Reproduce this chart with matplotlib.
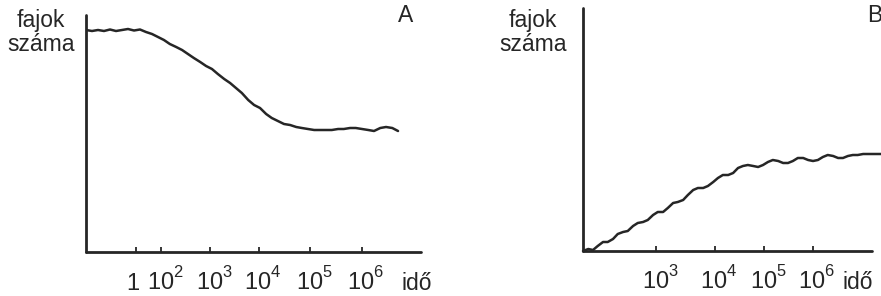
import numpy as np
import matplotlib
matplotlib.use("Agg")
import matplotlib.pyplot as plt
from matplotlib.transforms import ScaledTranslation

plt.rcParams['font.family'] = ['Liberation Sans', 'DejaVu Sans']
plt.rcParams['mathtext.fontset'] = 'custom'
plt.rcParams['mathtext.rm'] = 'Liberation Sans'
try:  # raise superscripts a bit higher, like the typeset original
    import matplotlib._mathtext as _mt
    _mt.FontConstantsBase.sup1 = 0.95
except Exception:
    pass

# ---------------- data ----------------
# Panel A: number of species vs log10(time)
a_logt = [-4.0, -3.52, -3.04, -2.56, -2.08, -1.6, -1.12, -0.64, -0.16, 0.32, 0.8, 1.28, 1.76,
          2.06, 2.18, 2.31, 2.43, 2.55, 2.67, 2.80, 2.92, 3.04, 3.16, 3.29, 3.41, 3.53, 3.65,
          3.78, 3.90, 4.02, 4.14, 4.25, 4.37, 4.49, 4.61, 4.73, 4.84, 4.96, 5.08, 5.19, 5.31,
          5.42, 5.54, 5.65, 5.77, 5.88, 6.0, 6.12, 6.23, 6.35, 6.46, 6.58, 6.69]
a_species = [222, 221, 222, 221, 222.5, 221, 222, 223, 221.5, 222.5, 220, 218, 215,
             212, 208, 205, 202, 198, 194, 190, 186, 183, 178, 173, 169, 164, 159,
             152, 147, 144, 138, 134, 131, 128, 127, 125, 124, 123, 122, 122, 122,
             122, 123, 123, 124, 124, 123, 122, 121, 124, 125, 124, 121]

# Panel B: number of species vs log10(time)
b_logt = [1.76, 1.85, 1.93, 2.01, 2.10, 2.18, 2.27, 2.35, 2.44, 2.52, 2.61, 2.69, 2.78, 2.86,
          2.95, 3.03, 3.12, 3.20, 3.29, 3.37, 3.46, 3.54, 3.63, 3.71, 3.80, 3.88, 3.97, 4.06,
          4.16, 4.27, 4.37, 4.47, 4.57, 4.67, 4.78, 4.88, 4.98, 5.08, 5.18, 5.29, 5.39, 5.49,
          5.59, 5.69, 5.80, 5.90, 6.00, 6.10, 6.20, 6.30, 6.41, 6.51, 6.61, 6.71, 6.81, 6.91,
          7.02, 7.12, 7.22, 7.32, 7.38]
b_species = [0, 2, 1, 5, 9, 9, 12, 17, 19, 20, 25, 28, 29, 31,
             36, 39, 39, 43, 48, 49, 51, 56, 61, 63, 63, 65, 69, 73,
             76, 76, 78, 83, 85, 86, 85, 84, 86, 89, 91, 90, 88, 88,
             90, 93, 93, 91, 90, 91, 94, 96, 95, 93, 93, 95, 96, 96,
             97, 97, 97, 97, 97]

a_ticks = [0, 2, 3, 4, 5, 6]
a_ticklabels = [r'$\mathregular{1}$', r'$\mathregular{10^{2}}$', r'$\mathregular{10^{3}}$',
                r'$\mathregular{10^{4}}$', r'$\mathregular{10^{5}}$', r'$\mathregular{10^{6}}$']
b_ticks = [3, 4, 5, 6]
b_ticklabels = [r'$\mathregular{10^{3}}$', r'$\mathregular{10^{4}}$',
                r'$\mathregular{10^{5}}$', r'$\mathregular{10^{6}}$']
y_label = 'fajok\nszáma'
x_label = 'idő'
panel_names = ['A', 'B']

# ---------------- layout (hand-drawn, uneven log axis) ----------------
a_knots_log = [-4.0, 0, 2, 3, 4, 5, 6, 7.13]
a_knots_pos = [0, 50, 75, 124, 173, 224, 276, 335]
b_knots_log = [1.76, 3, 4, 5, 6, 7.2, 7.38]
b_knots_pos = [0, 73, 132, 181, 230, 289, 298]

W, H = 881, 296
fig = plt.figure(figsize=(W / 100, H / 100), dpi=100)
ink = '#262626'


def make_scale(klog, kpos):
    klog = np.asarray(klog, float)
    kpos = np.asarray(kpos, float)
    return (lambda x: np.interp(x, klog, kpos),
            lambda p: np.interp(p, kpos, klog))


def style(ax, ticks, labels, xlim, ylim, spine_end):
    ax.set_xlim(*xlim)
    ax.set_ylim(*ylim)
    for s in ['top', 'right']:
        ax.spines[s].set_visible(False)
    for s in ['left', 'bottom']:
        ax.spines[s].set_linewidth(2.0)
        ax.spines[s].set_color(ink)
        ax.spines[s].set_capstyle('round')
    ax.spines['bottom'].set_bounds(xlim[0], spine_end)
    ax.set_yticks([])
    ax.set_xticks(ticks)
    ax.set_xticklabels(labels)
    ax.xaxis.set_minor_locator(matplotlib.ticker.NullLocator())
    ax.tick_params(axis='x', direction='in', length=3.5, width=1.3, color=ink,
                   labelsize=17, labelcolor=ink, pad=27.5)
    off_r = ScaledTranslation(4 / 100, 0, fig.dpi_scale_trans)
    off_l = ScaledTranslation(-3 / 100, 0, fig.dpi_scale_trans)
    for lbl in ax.get_xticklabels():
        lbl.set_va('baseline')
        lbl.set_transform(lbl.get_transform() + (off_r if '10' in lbl.get_text() else off_l))
    ax.patch.set_visible(False)


# Panel A
axA = fig.add_axes([86 / W, (H - 252) / H, 335 / W, 237 / H])
fA, iA = make_scale(a_knots_log, a_knots_pos)
axA.set_xscale('function', functions=(fA, iA))
axA.plot(a_logt, a_species, color=ink, lw=1.8, solid_capstyle='round')
style(axA, a_ticks, a_ticklabels, (-4.0, 7.13), (0, 237), 7.13)
axA.set_ylabel(y_label, rotation=0, fontsize=16.5, color=ink, ha='center', va='baseline',
               linespacing=1.05)
axA.yaxis.set_label_coords((41 - 86) / 335, (252 - 50) / 237)
axA.set_xlabel(x_label, fontsize=16.5, color=ink, ha='center', va='baseline')
axA.xaxis.set_label_coords((417 - 86) / 335, -38 / 237)

# Panel B
axB = fig.add_axes([583 / W, (H - 251) / H, 298 / W, 243 / H])
fB, iB = make_scale(b_knots_log, b_knots_pos)
axB.set_xscale('function', functions=(fB, iB))
axB.plot(b_logt, b_species, color=ink, lw=1.8, solid_capstyle='round', clip_on=False)
style(axB, b_ticks, b_ticklabels, (1.76, 7.38), (0, 243), 7.2)
axB.set_ylabel(y_label, rotation=0, fontsize=16.5, color=ink, ha='center', va='baseline',
               linespacing=1.05)
axB.yaxis.set_label_coords((533 - 583) / 298, (251 - 50) / 243)
axB.set_xlabel(x_label, fontsize=16.5, color=ink, ha='center', va='baseline')
axB.xaxis.set_label_coords((858 - 583) / 298, -38 / 243)

fig.text(406 / W, 1 - 15 / H, panel_names[0], fontsize=16.5, color=ink, ha='center', va='center')
fig.text(867 / W, 1 - 15 / H, panel_names[1], fontsize=16.5, color=ink, ha='left', va='center')

fig.savefig('out.png', dpi=100)
